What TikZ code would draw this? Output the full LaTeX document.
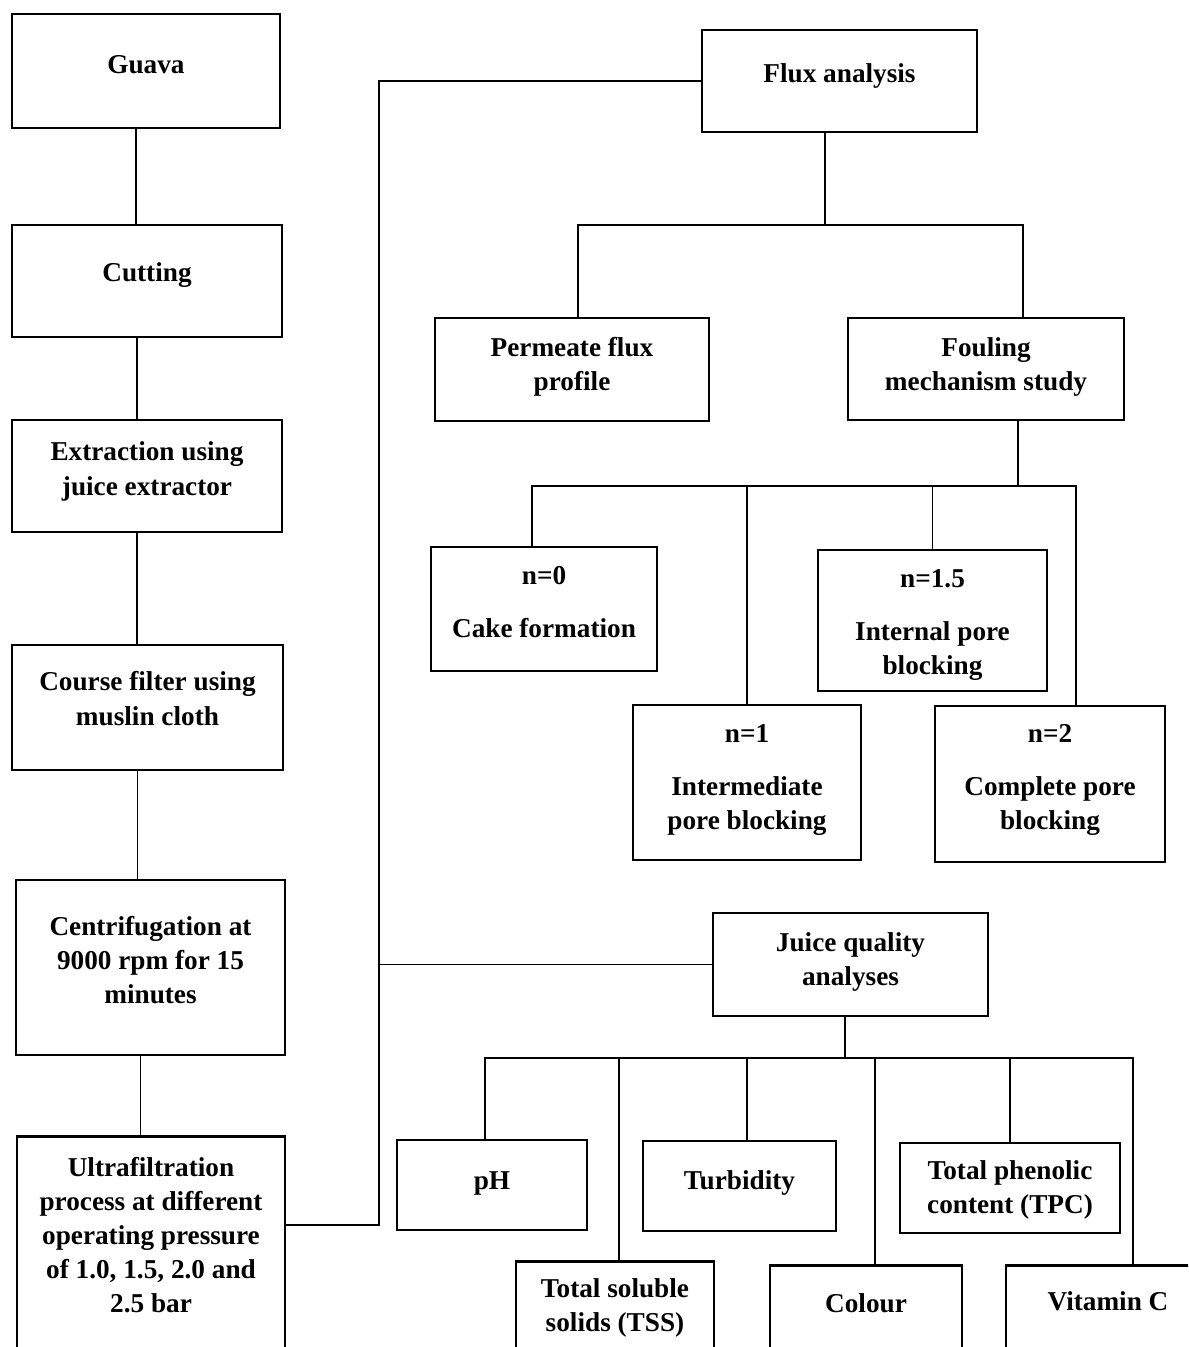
\documentclass[tikz,border=0pt]{standalone}
\usepackage{fontspec}
\setmainfont{Liberation Serif}
\usepackage{tikz}
\newcommand{\boxtext}[2][0pt]{\raisebox{#1}[0pt][0pt]{\begin{tabular}{@{}c@{}}#2\end{tabular}}}
\newcommand{\topbox}[2]{\parbox[t][5cm][t]{#1}{\centering #2}}

\begin{document}
\begin{tikzpicture}[
	box/.style={draw, rectangle, line width=1.6pt, align=center, inner sep=2pt, font=\bfseries\fontsize{15.5}{19.4}\selectfont},
	cutbox/.style={box, anchor=north, inner xsep=0pt, inner ysep=#1},
	link/.style={line width=1.1pt}
]
\useasboundingbox (0,0) rectangle (23.76,-26.94);
\clip (0,0) rectangle (23.76,-26.94);

% The process chain
\node[box, minimum width=5.36cm, minimum height=2.28cm] (guava) at (2.92,-1.42) {\boxtext[-0.04cm]{Guava}};
\node[box, minimum width=5.40cm, minimum height=2.24cm] (cutting) at (2.94,-5.62) {\boxtext{Cutting}};
\node[box, minimum width=5.40cm, minimum height=2.24cm] (extract) at (2.94,-9.52) {\boxtext[-0.03cm]{Extraction using\\juice extractor}};
\node[box, minimum width=5.42cm, minimum height=2.50cm] (filter) at (2.95,-14.15) {\boxtext{Course filter using\\muslin cloth}};
\node[box, minimum width=5.38cm, minimum height=3.50cm] (centri) at (3.01,-19.35) {\boxtext[-0.03cm]{Centrifugation at\\9000 rpm for 15\\minutes}};
\node[cutbox=0.42cm, minimum width=5.36cm] (ultra) at (3.02,-22.70) {\topbox{5cm}{Ultrafiltration\\process at different\\operating pressure\\of 1.0, 1.5, 2.0 and\\2.5 bar}};

% The flux branch
\node[box, minimum width=5.50cm, minimum height=2.04cm] (flux) at (16.79,-1.62) {\boxtext[-0.02cm]{Flux analysis}};
\node[box, minimum width=5.48cm, minimum height=2.06cm] (permeate) at (11.44,-7.39) {\boxtext[-0.07cm]{Permeate flux\\profile}};
\node[box, minimum width=5.52cm, minimum height=2.04cm] (fouling) at (19.72,-7.38) {\boxtext[-0.08cm]{Fouling\\mechanism study}};
\node[box, minimum width=4.52cm, minimum height=2.48cm] (cake) at (10.88,-12.18) {\boxtext[-0.03cm]{n=0\\[0.38cm]Cake formation}};
\node[box, minimum width=4.58cm, minimum height=2.82cm] (n15) at (18.65,-12.41) {\boxtext[-0.2cm]{n=1.5\\[0.38cm]Internal pore\\blocking}};
\node[box, minimum width=4.56cm, minimum height=3.10cm] (n1) at (14.94,-15.65) {\boxtext[-0.06cm]{n=1\\[0.38cm]Intermediate\\pore blocking}};
\node[box, minimum width=4.60cm, minimum height=3.12cm] (n2) at (21.00,-15.68) {\boxtext[-0.03cm]{n=2\\[0.38cm]Complete pore\\blocking}};

% The juice quality branch
\node[box, minimum width=5.50cm, minimum height=2.06cm] (juice) at (17.01,-19.29) {\boxtext[-0.07cm]{Juice quality\\analyses}};
\node[box, minimum width=3.80cm, minimum height=1.80cm] (ph) at (9.84,-23.70) {\boxtext[-0.08cm]{pH}};
\node[box, minimum width=3.86cm, minimum height=1.80cm] (turb) at (14.79,-23.72) {\boxtext[-0.06cm]{Turbidity}};
\node[box, minimum width=4.40cm, minimum height=1.80cm] (tpc) at (20.20,-23.76) {\boxtext[-0.16cm]{Total phenolic\\content (TPC)}};
\node[cutbox=0.35cm, minimum width=3.96cm] (tss) at (12.30,-25.20) {\topbox{3.7cm}{Total soluble\\solids (TSS)}};
\node[cutbox=0.57cm, minimum width=3.84cm] (colour) at (17.32,-25.28) {\topbox{3.6cm}{Colour}};
\node[cutbox=0.53cm, minimum width=4.08cm] (vitc) at (22.16,-25.28) {\topbox{3.8cm}{Vitamin C}};

% The connections
\coordinate (bus) at (7.58,-24.50);
\coordinate (fork1) at (16.50,-4.50);
\coordinate (fork2) at (20.36,-9.72);
\coordinate (fork3) at (16.90,-21.16);

\foreach \a/\b in {guava/cutting, cutting/extract, extract/filter, filter/centri, centri/ultra} {
	\path ([xshift=-0.2cm]\a.south) coordinate (p);
	\draw[link] (p) -- (p |- \b.north);
}

\draw[link] (flux.west) -| (bus) -- (bus -| ultra.east);
\draw[link] (juice.west) -- (juice.west -| bus);

\draw[link] (fork1 |- flux.south) -- (fork1);
\draw[link] ([xshift=0.12cm]permeate.north) |- (fork1) -| ([xshift=0.74cm]fouling.north);

\draw[link] (fork2 |- fouling.south) -- (fork2);
\draw[link] ([xshift=-0.24cm]cake.north) |- (fork2) -| ([xshift=0.52cm]n2.north);
\draw[link] (n1.north) -- (n1.north |- fork2);
\draw[link] (n15.north) -- (n15.north |- fork2);

\draw[link] (fork3 |- juice.south) -- (fork3);
\draw[link] ([xshift=-0.14cm]ph.north) |- (fork3) -| ([xshift=0.5cm]vitc.north);
\foreach \n/\s in {tss/0.08, turb/0.15, colour/0.18, tpc/0} {
	\path ([xshift=\s cm]\n.north) coordinate (p);
	\draw[link] (p) -- (p |- fork3);
}

\end{tikzpicture}
\end{document}
